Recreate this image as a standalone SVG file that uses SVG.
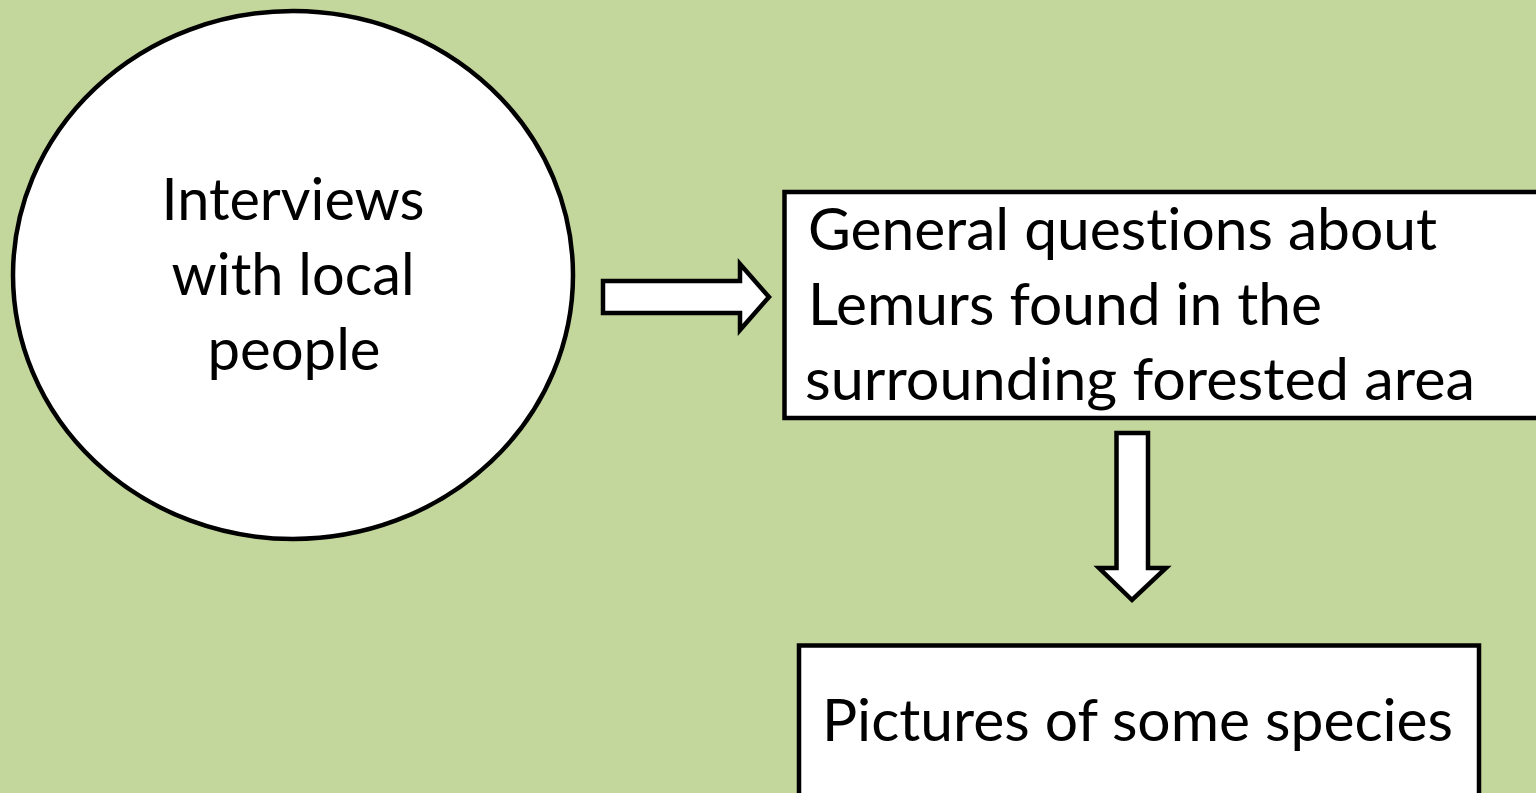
<svg xmlns="http://www.w3.org/2000/svg" width="1536" height="793" viewBox="0 0 1536 793">
<style>
.shape{fill:#FFFFFF;stroke:#000000;stroke-width:4.5}
.arrow{fill:#FFFFFF;stroke:#000000;stroke-width:4.5;stroke-linejoin:miter}
.lbl{font-family:Lato,"Open Sans","Liberation Sans",sans-serif;font-size:59px;fill:#000000;font-variant-ligatures:none}
</style>
<rect x="0" y="0" width="1536" height="793" fill="#C3D69B"/>
<g id="interviews">
<ellipse class="shape" cx="293" cy="275" rx="280" ry="264"/>
<text class="lbl" x="293" y="220" text-anchor="middle" textLength="263" lengthAdjust="spacingAndGlyphs">Interviews</text>
<text class="lbl" x="293" y="295" text-anchor="middle" textLength="243" lengthAdjust="spacingAndGlyphs">with local</text>
<text class="lbl" x="294" y="370" text-anchor="middle" textLength="173" lengthAdjust="spacingAndGlyphs">people</text>
</g>
<g id="general-questions">
<rect class="shape" x="784.5" y="192" width="800" height="226"/>
<text class="lbl" x="808" y="250" textLength="629" lengthAdjust="spacingAndGlyphs">General questions about</text>
<text class="lbl" x="808" y="325" textLength="514" lengthAdjust="spacingAndGlyphs">Lemurs found in the</text>
<text class="lbl" x="805" y="400" textLength="670" lengthAdjust="spacingAndGlyphs">surrounding forested area</text>
</g>
<g id="pictures">
<rect class="shape" x="799" y="645.5" width="680" height="200"/>
<text class="lbl" x="822" y="741" textLength="631" lengthAdjust="spacingAndGlyphs">Pictures of some species</text>
</g>
<g id="connectors">
<path class="arrow" d="M603 281 L740 281 L740 264 L769 297 L740 330 L740 313 L603 313 Z"/>
<path class="arrow" d="M1116.5 433 L1148 433 L1148 568 L1166 568 L1132 600 L1099 568 L1116.5 568 Z"/>
</g>
</svg>
